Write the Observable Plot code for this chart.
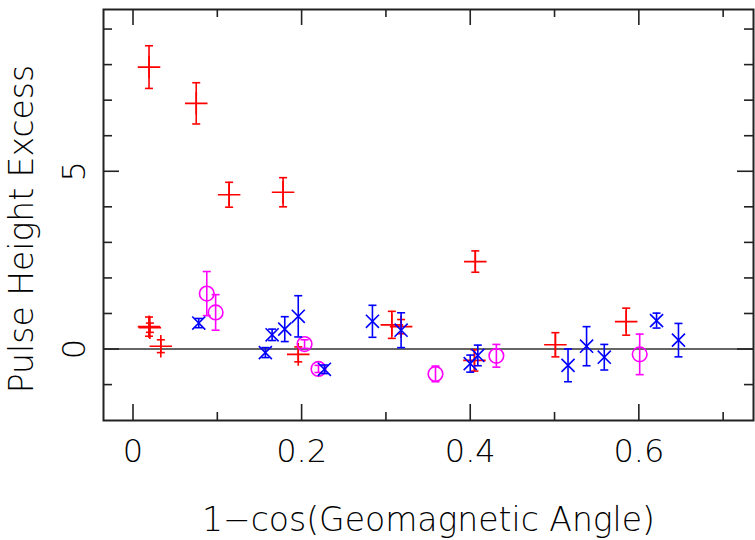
<!DOCTYPE html>
<html><head><meta charset="utf-8">
<script src="https://cdn.jsdelivr.net/npm/d3@7"></script>
<script src="https://cdn.jsdelivr.net/npm/@observablehq/plot@0.6"></script>
<style>body{margin:0;background:#fff}</style>
</head><body><div id="chart"></div>
<script>
// Red series (+)
const redX   = [0.019, 0.075, 0.114, 0.178, 0.406, 0.019, 0.020, 0.033, 0.196, 0.307, 0.318, 0.405, 0.501, 0.585];
const redY   = [7.93, 6.91, 4.34, 4.41, 2.46, 0.63, 0.60, 0.08, -0.15, 0.68, 0.63, -0.32, 0.12, 0.77];
const redErr = [0.60, 0.58, 0.35, 0.41, 0.30, 0.27, 0.13, 0.18, 0.21, 0.38, 0.20, 0.30, 0.34, 0.38];
// Blue series (x)
const blueX   = [0.078, 0.157, 0.165, 0.180, 0.196, 0.227, 0.284, 0.318, 0.400, 0.409, 0.516, 0.538, 0.559, 0.621, 0.647];
const blueY   = [0.73, -0.10, 0.40, 0.56, 0.92, -0.57, 0.78, 0.53, -0.41, -0.18, -0.46, 0.08, -0.23, 0.80, 0.25];
const blueErr = [0.13, 0.14, 0.16, 0.35, 0.58, 0.12, 0.45, 0.49, 0.24, 0.29, 0.46, 0.55, 0.36, 0.21, 0.47];
// Magenta series (o)
const magX   = [0.0875, 0.098, 0.2035, 0.220, 0.3588, 0.431, 0.601];
const magY   = [1.56, 1.03, 0.14, -0.56, -0.70, -0.19, -0.15];
const magErr = [0.62, 0.50, 0.12, 0.10, 0.22, 0.32, 0.57];

const xMajor = [0, 0.2, 0.4, 0.6];
const xMinor = [0.1, 0.3, 0.5, 0.7];
const xTickLabels = ["0", "0.2", "0.4", "0.6"];
const yMajor = [0, 5];
const yMinor = [-1, 1, 2, 3, 4, 6, 7, 8, 9];
const yTickLabels = ["0", "5"];
const xLabel = "1\u2212cos(Geomagnetic Angle)";
const yLabel = "Pulse Height Excess";

const rows = (xs, ys, es) => xs.map((x, i) => ({x, y: ys[i], lo: ys[i] - es[i], hi: ys[i] + es[i]}));
const red = rows(redX, redY, redErr);
const blue = rows(blueX, blueY, blueErr);
const mag = rows(magX, magY, magErr);

const cap = {draw(ctx) { ctx.moveTo(-4, 0); ctx.lineTo(4, 0); }};

const W = 755, H = 540, mL = 103, mR = 2, mT = 9, mB = 120;
const pw = W - mL - mR, ph = H - mT - mB;
const ink = "#222";
const txt = "#000";

function errMarks(data, color, symbol, r) {
  return [
    Plot.ruleX(data, {x: "x", y1: "lo", y2: "hi", stroke: color, strokeWidth: 1.6}),
    Plot.dot(data, {x: "x", y: "lo", symbol: cap, fill: "none", stroke: color, strokeWidth: 1.6}),
    Plot.dot(data, {x: "x", y: "hi", symbol: cap, fill: "none", stroke: color, strokeWidth: 1.6}),
    Plot.dot(data, {x: "x", y: "y", symbol, r, fill: "none", stroke: color, strokeWidth: 1.6})
  ];
}

const chart = Plot.plot({
  width: W, height: H,
  marginLeft: mL, marginRight: mR, marginTop: mT, marginBottom: mB,
  x: {domain: [-0.035, 0.736], axis: null},
  y: {domain: [-2.01, 9.55], axis: null},
  style: {fontFamily: "'DejaVu Sans', sans-serif", fontWeight: 200, fontSize: "32px", background: "#fff", color: txt},
  marks: [
    Plot.ruleY([0], {stroke: "#333", strokeWidth: 1.6}),
    ...errMarks(red, "#ff0000", "plus", 7.3),
    ...errMarks(mag, "#ff00ff", "circle", 7.3),
    ...errMarks(blue, "#0000ff", "times", 6),
    Plot.frame({stroke: ink, strokeWidth: 2}),
    Plot.tickX(xMajor, {x: d => d, insetTop: ph - 16, stroke: ink, strokeWidth: 1.6}),
    Plot.tickX(xMajor, {x: d => d, insetBottom: ph - 16, stroke: ink, strokeWidth: 1.6}),
    Plot.tickX(xMinor, {x: d => d, insetTop: ph - 8, stroke: ink, strokeWidth: 1.6}),
    Plot.tickX(xMinor, {x: d => d, insetBottom: ph - 8, stroke: ink, strokeWidth: 1.6}),
    Plot.tickY(yMajor, {y: d => d, insetRight: pw - 16, stroke: ink, strokeWidth: 1.6}),
    Plot.tickY(yMajor, {y: d => d, insetLeft: pw - 16, stroke: ink, strokeWidth: 1.6}),
    Plot.tickY(yMinor, {y: d => d, insetRight: pw - 9, stroke: ink, strokeWidth: 1.6}),
    Plot.tickY(yMinor, {y: d => d, insetLeft: pw - 9, stroke: ink, strokeWidth: 1.6}),
    Plot.text(xTickLabels, {x: (d, i) => xMajor[i], frameAnchor: "bottom", dy: 31, lineAnchor: "middle", fill: txt}),
    Plot.text(yTickLabels, {y: (d, i) => yMajor[i], frameAnchor: "left", dx: -29, rotate: -90, textAnchor: "middle", lineAnchor: "middle", fill: txt}),
    Plot.text([xLabel], {frameAnchor: "bottom", dy: 100, lineAnchor: "middle", fontSize: 33, fill: txt}),
    Plot.text([yLabel], {frameAnchor: "left", dx: -81, dy: 14, rotate: -90, textAnchor: "middle", lineAnchor: "middle", fontSize: 33, fill: txt})
  ]
});
document.getElementById("chart").appendChild(chart);
</script>
</body></html>
